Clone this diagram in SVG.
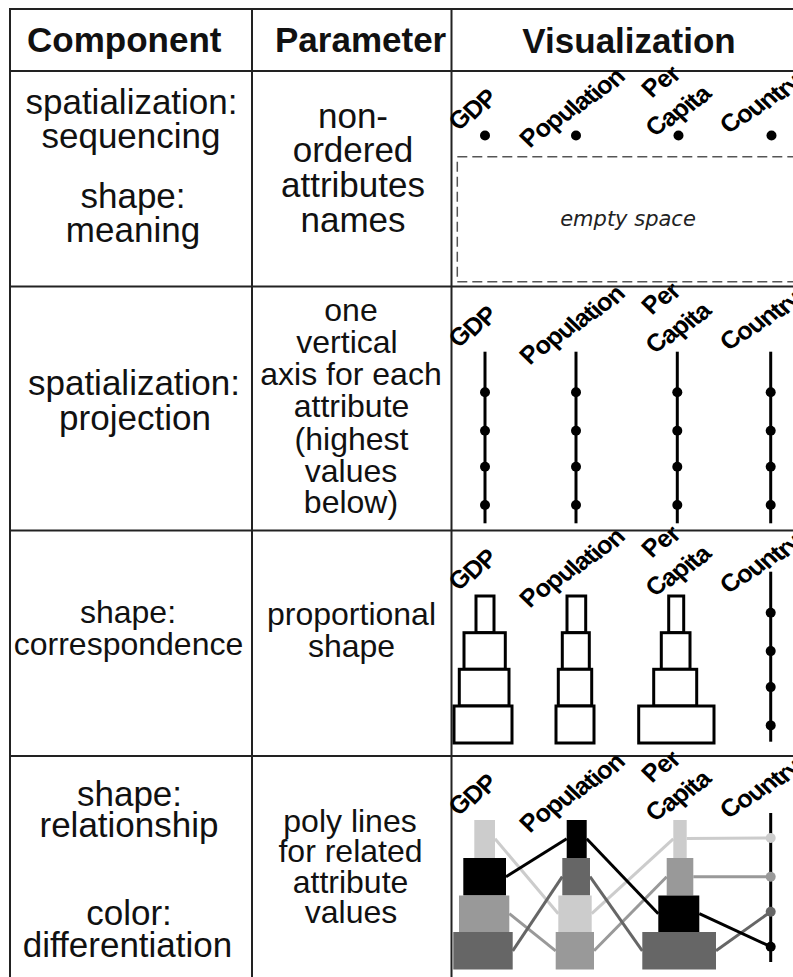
<svg xmlns="http://www.w3.org/2000/svg" xmlns:xlink="http://www.w3.org/1999/xlink" width="793" height="977" viewBox="0 0 793 977">
<style>
.grid{stroke:#222;stroke-width:2;fill:none}
.t{font-family:"Liberation Sans",Arial,sans-serif;font-size:35px;fill:#111;text-anchor:middle}
.s{font-size:32px}
.h{font-family:"Liberation Sans",Arial,sans-serif;font-size:35px;font-weight:bold;fill:#111}
.lbl{font-family:"Liberation Sans",Arial,sans-serif;font-size:25px;font-weight:bold;letter-spacing:-1px;fill:#000}
.axis{stroke:#000;stroke-width:3}
.box{fill:#fff;stroke:#000;stroke-width:3}
.lt{fill:#cccccc}.md{fill:#999999}.dk{fill:#666666}.bk{fill:#000}
.plt{stroke:#cccccc}.pmd{stroke:#999999}.pdk{stroke:#666666}.pbk{stroke:#000}
.pl{fill:none;stroke-width:3}
</style>
<defs>
<g id="labels">
<text class="lbl" transform="translate(459,132) rotate(-37)" rotate="-9">GDP</text>
<text class="lbl" transform="translate(530,149) rotate(-35)" rotate="-11">Population</text>
<text class="lbl" transform="translate(652,99) rotate(-35)" rotate="-11">Per</text>
<text class="lbl" transform="translate(656,138) rotate(-35)" rotate="-11">Capita</text>
<text class="lbl" transform="translate(730,135) rotate(-33)" rotate="-12">Country</text>
</g>
<g id="dots4">
<circle r="5" cy="0"/><circle r="5" cy="38.4"/><circle r="5" cy="74.4"/><circle r="5" cy="112.7"/>
</g>
</defs>
<rect width="793" height="977" fill="#fff"/>
<g id="table-grid" class="grid">
<line x1="10" y1="9" x2="793" y2="9"/>
<line x1="10" y1="8" x2="10" y2="977"/>
<line x1="252" y1="8" x2="252" y2="977"/>
<line x1="451.5" y1="8" x2="451.5" y2="977"/>
<line x1="10" y1="71" x2="793" y2="71"/>
<line x1="10" y1="286.5" x2="793" y2="286.5"/>
<line x1="10" y1="530.5" x2="793" y2="530.5"/>
<line x1="10" y1="756" x2="793" y2="756"/>
</g>
<g id="header">
<text class="h" x="27" y="52">Component</text>
<text class="h" x="275" y="52">Parameter</text>
<text class="h" x="629" y="53" text-anchor="middle">Visualization</text>
</g>
<g id="row1">
<text class="t" x="131.5" y="114">spatialization:</text>
<text class="t" x="131" y="148">sequencing</text>
<text class="t" x="133" y="208">shape:</text>
<text class="t" x="133" y="242">meaning</text>
<text class="t" x="353" y="128">non-</text>
<text class="t" x="353" y="162">ordered</text>
<text class="t" x="353" y="197">attributes</text>
<text class="t" x="353" y="232">names</text>
<use xlink:href="#labels"/>
<circle cx="485" cy="135.5" r="5"/><circle cx="576" cy="135.5" r="5"/><circle cx="678.5" cy="135.5" r="5"/><circle cx="771.5" cy="135.5" r="5"/>
<rect x="457.3" y="156.7" width="400" height="125" fill="none" stroke="#555" stroke-width="1.5" stroke-dasharray="10 5"/>
<text x="628" y="226" text-anchor="middle" font-family="'DejaVu Sans',Verdana,sans-serif" font-style="italic" font-size="21" fill="#222">empty space</text>
</g>
<g id="row2">
<text class="t" x="134" y="395">spatialization:</text>
<text class="t" x="135" y="430">projection</text>
<text class="t s" x="351" y="321">one</text>
<text class="t s" x="347" y="353">vertical</text>
<text class="t s" x="351" y="385">axis for each</text>
<text class="t s" x="351.5" y="417">attribute</text>
<text class="t s" x="351.5" y="450">(highest</text>
<text class="t s" x="351" y="482">values</text>
<text class="t s" x="351" y="513">below)</text>
<use xlink:href="#labels" transform="translate(0,217)"/>
<line class="axis" x1="485" y1="351.7" x2="485" y2="523.3"/>
<line class="axis" x1="576" y1="351.7" x2="576" y2="523.3"/>
<line class="axis" x1="677.3" y1="351.7" x2="677.3" y2="523.3"/>
<line class="axis" x1="770.7" y1="351.7" x2="770.7" y2="523.3"/>
<use xlink:href="#dots4" transform="translate(485,392.3)"/>
<use xlink:href="#dots4" transform="translate(576,392.3)"/>
<use xlink:href="#dots4" transform="translate(677.3,392.3)"/>
<use xlink:href="#dots4" transform="translate(770.7,392.3)"/>
</g>
<g id="row3">
<text class="t s" x="128" y="623">shape:</text>
<text class="t s" x="128.5" y="655">correspondence</text>
<text class="t s" x="351.5" y="625">proportional</text>
<text class="t s" x="351.5" y="657">shape</text>
<use xlink:href="#labels" transform="translate(0,460)"/>
<rect class="box" x="476" y="596" width="18" height="36.7"/>
<rect class="box" x="464" y="632.7" width="41.3" height="36.6"/>
<rect class="box" x="459.3" y="669.3" width="49.7" height="36.7"/>
<rect class="box" x="454" y="706" width="58" height="37"/>
<rect class="box" x="567" y="596" width="18.7" height="36.7"/>
<rect class="box" x="562.3" y="632.7" width="27" height="36.6"/>
<rect class="box" x="558.3" y="669.3" width="33.4" height="36.7"/>
<rect class="box" x="556" y="706" width="38" height="37"/>
<rect class="box" x="668.7" y="596" width="15" height="36.7"/>
<rect class="box" x="661.3" y="632.7" width="28.7" height="36.6"/>
<rect class="box" x="653.7" y="669.3" width="43" height="36.7"/>
<rect class="box" x="638.7" y="706" width="75.3" height="37"/>
<line class="axis" x1="770.7" y1="571.7" x2="770.7" y2="741.7"/>
<use xlink:href="#dots4" transform="translate(770.7,612.7)"/>
</g>
<g id="row4">
<text class="t" x="129.5" y="806">shape:</text>
<text class="t" x="129" y="837">relationship</text>
<text class="t" x="129" y="925">color:</text>
<text class="t" x="127.5" y="957">differentiation</text>
<text class="t s" x="350" y="832">poly lines</text>
<text class="t s" x="350.5" y="862">for related</text>
<text class="t s" x="350.5" y="893">attribute</text>
<text class="t s" x="351" y="923">values</text>
<use xlink:href="#labels" transform="translate(0,685)"/>
<line class="axis" x1="770.7" y1="813" x2="770.7" y2="962"/>
</g>
<g id="connectors" class="pl">
<polyline class="pl plt" points="495,838.8 558.3,913.7"/>
<polyline class="pl plt" points="591.7,913.7 673.3,838.8"/>
<polyline class="pl plt" points="686.7,838.5 770.7,838"/>
<polyline class="pl pmd" points="509.3,913.7 555.7,950.8"/>
<polyline class="pl pmd" points="594,950.8 666.7,876.7"/>
<polyline class="pl pmd" points="693.3,876.7 770.7,876.7"/>
<polyline class="pl pdk" points="512.7,950.8 562.3,876.7"/>
<polyline class="pl pdk" points="590,876.7 642.3,950.8"/>
<polyline class="pl pdk" points="716,950.8 770.7,911.7"/>
<polyline class="pl pbk" points="506,876.7 566.7,838.8"/>
<polyline class="pl pbk" points="586.7,838.8 658.3,913.7"/>
<polyline class="pl pbk" points="699.3,913.7 770.7,946.7"/>
</g>
<g id="row4-shapes">
<rect class="lt" x="474.3" y="820" width="20.7" height="38"/>
<rect class="bk" x="463.3" y="858" width="42.7" height="37.5"/>
<rect class="md" x="459" y="895.5" width="50.3" height="36.5"/>
<rect class="dk" x="453.3" y="932" width="59.4" height="37.5"/>
<rect class="bk" x="566.7" y="820" width="20" height="38"/>
<rect class="dk" x="562.3" y="858" width="27.7" height="37.5"/>
<rect class="lt" x="558.3" y="895.5" width="33.4" height="36.5"/>
<rect class="md" x="555.7" y="932" width="38.3" height="37.5"/>
<rect class="lt" x="673.3" y="820" width="13.4" height="38"/>
<rect class="md" x="666.7" y="858" width="26.6" height="37.5"/>
<rect class="bk" x="658.3" y="895.5" width="41" height="36.5"/>
<rect class="dk" x="642.3" y="932" width="73.7" height="37.5"/>
<circle class="lt" cx="770.7" cy="838" r="5"/>
<circle class="md" cx="770.7" cy="876.7" r="5"/>
<circle class="dk" cx="770.7" cy="911.7" r="5"/>
<circle class="bk" cx="770.7" cy="946.7" r="5"/>
</g>
</svg>
